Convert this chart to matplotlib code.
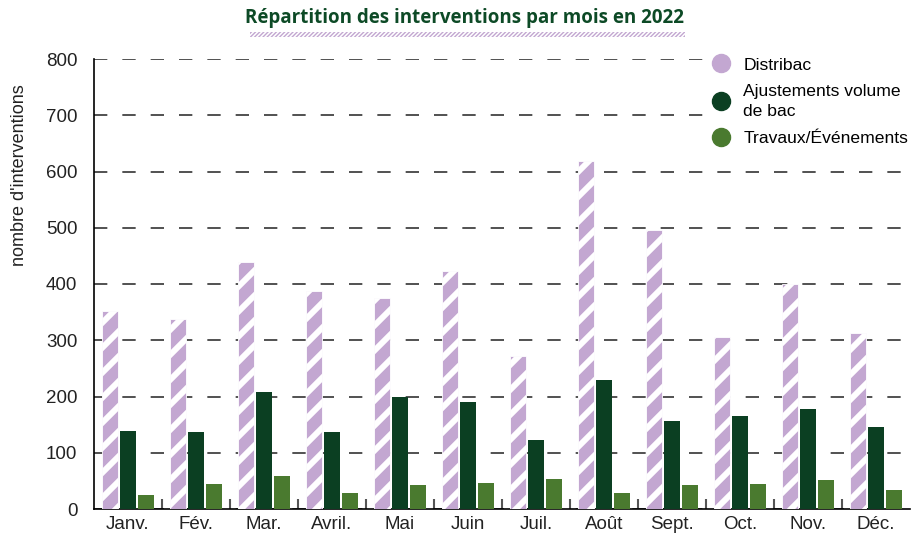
import numpy as np
import matplotlib.pyplot as plt
from matplotlib import hatch as mhatch
from matplotlib.lines import Line2D
from matplotlib.patches import Rectangle

# Data
mois = ["Janv.", "Fév.", "Mar.", "Avril.", "Mai", "Juin",
        "Juil.", "Août", "Sept.", "Oct.", "Nov.", "Déc."]
distribac = [352, 338, 439, 388, 375, 423, 272, 619, 496, 306, 400, 313]
ajustements = [139, 137, 208, 137, 199, 190, 123, 229, 156, 165, 178, 146]
travaux = [25, 44, 59, 28, 43, 46, 53, 29, 43, 44, 52, 34]

lilas = "#c3a7d1"
vert_fonce = "#0b3f22"
vert = "#4a7a2f"

# tune stripe spacing of the '/' hatch (even line count so the tile repeats cleanly)
_ne_init = mhatch.NorthEastHatch.__init__
def _ne_wide(self, hatch, density):
    _ne_init(self, hatch, density)
    n = int(hatch.count('/') * density * 4 / 3)
    self.num_lines = n - (n % 2)
    if self.num_lines:
        self.num_vertices = (self.num_lines + 1) * 2
    else:
        self.num_vertices = 0
mhatch.NorthEastHatch.__init__ = _ne_wide

plt.rcParams["font.family"] = ["Liberation Sans", "DejaVu Sans"]
plt.rcParams["hatch.linewidth"] = 4.3

fig = plt.figure(figsize=(9.23, 5.4), dpi=100)
ax = fig.add_axes([94 / 923, 1 - 509 / 540, 816 / 923, 450 / 540])

x = np.arange(len(mois))
w = 0.245
off = 0.265

ax.bar(x - off, distribac, w, color=lilas, edgecolor="white",
       hatch="/", linewidth=0.6, zorder=3)
ax.bar(x, ajustements, w, color=vert_fonce, zorder=3)
ax.bar(x + off, travaux, w, color=vert, zorder=3)

ax.set_xlim(-0.5, len(mois) - 0.5)
ax.set_ylim(0, 800)
ax.set_yticks(range(0, 801, 100))
ax.set_xticks(x)
ax.set_xticklabels(mois, fontsize=13.5, color="#222222")
ax.set_xticks(x[:-1] + 0.5, minor=True)
ax.tick_params(axis="x", which="major", length=0, pad=5)
ax.tick_params(axis="x", which="minor", direction="in", length=7,
               width=1.5, color="#555555")
ax.tick_params(axis="y", length=0, labelsize=13.5, labelcolor="#222222", pad=12)

ax.yaxis.grid(True, linestyle=(0, (8, 9)), linewidth=1.2, color="#333333", zorder=0)
ax.set_axisbelow(True)
for s in ["top", "right"]:
    ax.spines[s].set_visible(False)
ax.spines["left"].set_linewidth(1.2)
ax.spines["bottom"].set_linewidth(1.2)

ax.set_ylabel("nombre d'interventions", fontsize=13, color="#222222")
ax.yaxis.set_label_coords(-0.081, 0.742)

# Legend with round markers
handles = [
    Line2D([], [], marker="o", linestyle="", markersize=13, color=lilas),
    Line2D([], [], marker="o", linestyle="", markersize=13, color=vert_fonce),
    Line2D([], [], marker="o", linestyle="", markersize=13, color=vert),
]
labels = ["Distribac", "Ajustements volume\nde bac", "Travaux/Événements"]
leg = ax.legend(handles, labels, loc="upper right", bbox_to_anchor=(1.015, 1.035),
                fontsize=12.6, frameon=True, facecolor="white", edgecolor="white",
                framealpha=1, handletextpad=0.5, labelspacing=0.65, borderpad=0.3,
                handlelength=1.5)
for t in leg.get_texts():
    t.set_linespacing(1.45)
leg.set_zorder(5)

# Title with hatched underline
fig.text(0.503, 0.966, "Répartition des interventions par mois en 2022",
         ha="center", va="center", fontsize=13.5, fontweight="bold",
         color="#0d4a26", family=["Open Sans", "DejaVu Sans"])
plt.rcParams["hatch.linewidth"] = 1.0
fig.patches.append(Rectangle((250 / 923, 1 - 37 / 540), 435 / 923, 5 / 540,
                             transform=fig.transFigure, facecolor="white",
                             edgecolor=lilas, hatch="//////", linewidth=0))

fig.savefig("out.png", dpi=100)
